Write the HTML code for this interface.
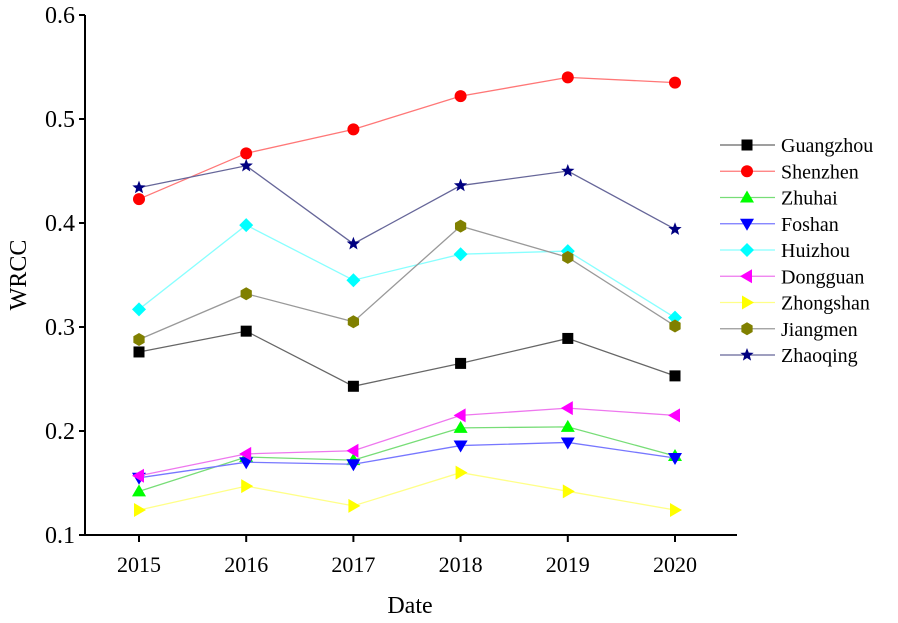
<!DOCTYPE html>
<html><head><meta charset="utf-8"><style>
body{margin:0;background:#fff}
svg{display:block;font-family:"Liberation Serif",serif}
</style></head><body>
<svg id="c" width="898" height="623"></svg>
<script>
const years=[2015,2016,2017,2018,2019,2020];
const yTicks=[0.1,0.2,0.3,0.4,0.5,0.6];
const cities=["Guangzhou","Shenzhen","Zhuhai","Foshan","Huizhou","Dongguan","Zhongshan","Jiangmen","Zhaoqing"];
const guangzhou=[0.276,0.296,0.243,0.265,0.289,0.253];
const shenzhen=[0.423,0.467,0.490,0.522,0.540,0.535];
const zhuhai=[0.142,0.175,0.172,0.203,0.204,0.176];
const foshan=[0.155,0.170,0.168,0.186,0.189,0.174];
const huizhou=[0.317,0.398,0.345,0.370,0.373,0.309];
const dongguan=[0.157,0.178,0.181,0.215,0.222,0.215];
const zhongshan=[0.124,0.147,0.128,0.160,0.142,0.124];
const jiangmen=[0.288,0.332,0.305,0.397,0.367,0.301];
const zhaoqing=[0.434,0.455,0.380,0.436,0.450,0.394];
const seriesVals=[guangzhou,shenzhen,zhuhai,foshan,huizhou,dongguan,zhongshan,jiangmen,zhaoqing];
const colors=["#000","#f00","#0f0","#00f","#0ff","#f0f","#ff0","#808000","#000080"];
const lineColors=["#666","#f77","#7d7","#77f","#8ff","#e7e","#ff8","#999","#669"];
const shapes=["square","circle","up","down","diamond","left","right","hex","star"];

const svg=document.getElementById('c');
const NS='http://www.w3.org/2000/svg';
const X=v=>139+(v-2015)*107.2;
const Y=v=>535-(v-0.1)*1040;
function mk(t,a,p){const e=document.createElementNS(NS,t);for(const k in a)e.setAttribute(k,a[k]);(p||svg).appendChild(e);return e;}
function marker(shape,cx,cy,col,g){
  const r=6.5;let pts;
  if(shape==="square")return mk('rect',{x:cx-5.5,y:cy-5.5,width:11,height:11,fill:col},g);
  if(shape==="circle")return mk('circle',{cx:cx,cy:cy,r:6,fill:col},g);
  if(shape==="up")pts=[[0,-7],[7,5],[-7,5]];
  if(shape==="down")pts=[[0,7],[7,-5],[-7,-5]];
  if(shape==="left")pts=[[-7,0],[5,-7],[5,7]];
  if(shape==="right")pts=[[7,0],[-5,-7],[-5,7]];
  if(shape==="diamond")pts=[[0,-7],[7,0],[0,7],[-7,0]];
  if(shape==="hex"){pts=[];for(let i=0;i<6;i++){const a=Math.PI/3*i+Math.PI/6;pts.push([6.5*Math.cos(a),6.5*Math.sin(a)]);}}
  if(shape==="star"){pts=[];for(let i=0;i<10;i++){const a=-Math.PI/2+Math.PI/5*i;const rr=i%2?3:7;pts.push([rr*Math.cos(a),rr*Math.sin(a)]);}}
  return mk('polygon',{points:pts.map(p=>(cx+p[0])+','+(cy+p[1])).join(' '),fill:col},g);
}
// axes
const ax=mk('g',{});


mk('line',{x1:85,y1:15,x2:85,y2:535,stroke:'#000','stroke-width':2},ax);
mk('line',{x1:85,y1:535,x2:737,y2:535,stroke:'#000','stroke-width':2},ax);
yTicks.forEach(t=>{
  mk('line',{x1:79,y1:Y(t),x2:85,y2:Y(t),stroke:'#000','stroke-width':2},ax);
  const tx=mk('text',{x:75,y:Y(t)+8,'text-anchor':'end','font-size':24},ax);
  tx.textContent=t.toFixed(1);
  
  
});
years.forEach(y=>{
  mk('line',{x1:X(y),y1:535,x2:X(y),y2:542,stroke:'#000','stroke-width':2},ax);
  const tx=mk('text',{x:X(y),y:572,'text-anchor':'middle','font-size':22},ax);
  tx.textContent=y;
  
  
});
const yt=mk('text',{x:0,y:0,transform:'translate(26,275) rotate(-90)','text-anchor':'middle','font-size':24});
yt.textContent='WRCC';


const xt=mk('text',{x:410,y:613,'text-anchor':'middle','font-size':24});
xt.textContent='Date';


// series
seriesVals.forEach((vals,i)=>{
  const g=mk('g',{});
  
  
  mk('polyline',{points:vals.map((v,j)=>X(years[j])+','+Y(v)).join(' '),fill:'none',stroke:lineColors[i],'stroke-width':1.3},g);
  vals.forEach((v,j)=>{const m=marker(shapes[i],X(years[j]),Y(v),colors[i],g);
    
    });
});
// legend
const lg=mk('g',{});


cities.forEach((c,i)=>{
  const y=145+i*26.25;
  const e=mk('g',{},lg);
  
  
  mk('line',{x1:720,y1:y,x2:775,y2:y,stroke:lineColors[i],'stroke-width':1.3},e);
  marker(shapes[i],747,y,colors[i],e);
  const t=mk('text',{x:781,y:y+7,'font-size':20},e);
  t.textContent=c;
});
</script>
</body></html>
